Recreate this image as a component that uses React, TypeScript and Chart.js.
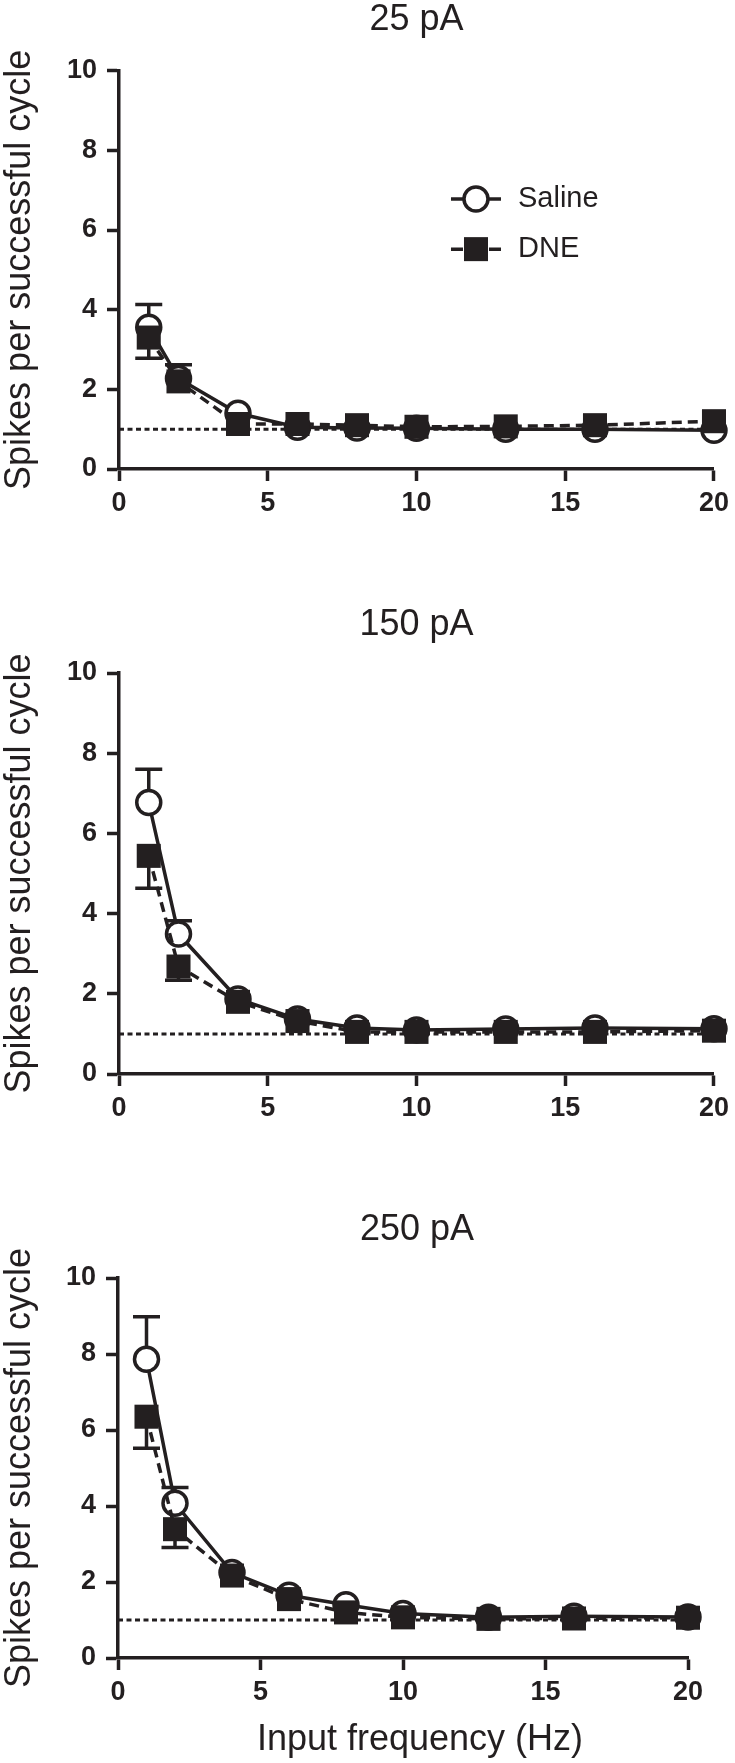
import React, { useEffect, useRef } from "react";
import { Chart, registerables } from "chart.js";

Chart.register(...registerables);

const INK = "#231f20";
const FONT = "'Liberation Sans', Arial, Helvetica, sans-serif";

// ---- data ----
const frequencies = [1, 2, 4, 6, 8, 10, 13, 16, 20];
const xTickValues = [0, 5, 10, 15, 20];
const yTickValues = [0, 2, 4, 6, 8, 10];
const baselineX = [0, 20];
const baselineY = [1, 1];

const saline25 = [3.56, 2.27, 1.4, 1.05, 1.03, 1.02, 1.0, 1.0, 0.97];
const dne25 = [3.3, 2.2, 1.13, 1.13, 1.1, 1.06, 1.07, 1.1, 1.2];
const salineUpper25 = [4.13, 2.62, null, null, null, null, null, null, null];
const dneLower25 = [2.78, null, null, null, null, null, null, null, null];

const saline150 = [6.77, 3.49, 1.87, 1.37, 1.15, 1.1, 1.12, 1.15, 1.13];
const dne150 = [5.44, 2.68, 1.8, 1.32, 1.05, 1.05, 1.05, 1.05, 1.08];
const salineUpper150 = [7.6, 3.82, null, null, null, null, null, null, null];
const dneLower150 = [4.63, 2.34, null, null, null, null, null, null, null];

const saline250 = [7.86, 4.07, 2.25, 1.65, 1.4, 1.17, 1.07, 1.1, 1.08];
const dne250 = [6.35, 3.39, 2.17, 1.55, 1.2, 1.07, 1.03, 1.04, 1.06];
const salineUpper250 = [8.98, 4.49, null, null, null, null, null, null, null];
const dneLower250 = [5.52, 2.91, null, null, null, null, null, null, null];

const legendLabels = ["Saline", "DNE"];

// ---- layout (pixels) ----
type Panel = {
  title: string;
  saline: number[];
  dne: number[];
  salineEnds: (number | null)[];
  dneEnds: (number | null)[];
  top: number;
  height: number;
  yW: number;
  padRight: number;
  xH: number;
  titlePadTop: number;
  titlePadBottom: number;
  titleShift: number;
  legend: boolean;
  xTitle: boolean;
};

const panels: Panel[] = [
  {
    title: "25 pA", saline: saline25, dne: dne25, salineEnds: salineUpper25, dneEnds: dneLower25,
    top: 0, height: 530, yW: 119, padRight: 18, xH: 61, titlePadTop: 0.2, titlePadBottom: 30.9,
    titleShift: 0, legend: true, xTitle: false,
  },
  {
    title: "150 pA", saline: saline150, dne: dne150, salineEnds: salineUpper150, dneEnds: dneLower150,
    top: 600, height: 530, yW: 119, padRight: 16, xH: 56, titlePadTop: 5.2, titlePadBottom: 28.2,
    titleShift: 0, legend: false, xTitle: false,
  },
  {
    title: "250 pA", saline: saline250, dne: dne250, salineEnds: salineUpper250, dneEnds: dneLower250,
    top: 1170, height: 593, yW: 118, padRight: 47, xH: 105, titlePadTop: 40.2, titlePadBottom: 28.2,
    titleShift: 14, legend: false, xTitle: true,
  },
];

const LW = 3.5;

const errorBarPlugin = {
  id: "errorBars",
  beforeDatasetsDraw(chart: any) {
    const { ctx } = chart;
    const xs = chart.scales.x;
    const ys = chart.scales.y;
    ctx.save();
    ctx.strokeStyle = INK;
    ctx.lineWidth = LW;
    ctx.setLineDash([]);
    chart.data.datasets.forEach((ds: any) => {
      if (!ds.errorEnds) return;
      ds.data.forEach((pt: any, i: number) => {
        const end = ds.errorEnds[i];
        if (end == null) return;
        const px = xs.getPixelForValue(pt.x);
        const py0 = ys.getPixelForValue(pt.y);
        const py1 = ys.getPixelForValue(end);
        ctx.beginPath();
        ctx.moveTo(px, py0);
        ctx.lineTo(px, py1);
        ctx.moveTo(px - 13.5, py1);
        ctx.lineTo(px + 13.5, py1);
        ctx.stroke();
      });
    });
    ctx.restore();
  },
};

const seriesKeyPlugin = {
  id: "seriesKey",
  afterDatasetsDraw(chart: any, _args: any, opts: any) {
    if (!opts || !opts.show) return;
    const { ctx } = chart;
    const xs = chart.scales.x;
    const ys = chart.scales.y;
    const cx = xs.getPixelForValue(opts.x);
    opts.items.forEach((item: any) => {
      const cy = ys.getPixelForValue(item.y);
      ctx.save();
      ctx.strokeStyle = INK;
      ctx.lineWidth = LW;
      ctx.setLineDash(item.dash);
      ctx.beginPath();
      ctx.moveTo(cx - 25, cy);
      ctx.lineTo(cx + 25, cy);
      ctx.stroke();
      ctx.setLineDash([]);
      if (item.style === "circle") {
        ctx.beginPath();
        ctx.arc(cx, cy, 12, 0, Math.PI * 2);
        ctx.fillStyle = "#ffffff";
        ctx.fill();
        ctx.stroke();
      } else {
        ctx.fillStyle = INK;
        ctx.fillRect(cx - 12, cy - 12, 24, 24);
      }
      ctx.fillStyle = INK;
      ctx.font = `29px ${FONT}`;
      ctx.textAlign = "left";
      ctx.textBaseline = "middle";
      ctx.fillText(item.label, cx + 42, cy);
      ctx.restore();
    });
  },
};

const layoutTweakPlugin = {
  id: "layoutTweak",
  afterLayout(chart: any, _args: any, opts: any) {
    const tb = chart.titleBlock;
    if (tb && opts && opts.titleShift) {
      tb.left += opts.titleShift;
      tb.right += opts.titleShift;
    }
  },
  afterDraw(chart: any, _args: any, opts: any) {
    if (!opts || !opts.xTitle) return;
    const { ctx, chartArea } = chart;
    ctx.save();
    ctx.fillStyle = INK;
    ctx.font = `36px ${FONT}`;
    ctx.textAlign = "center";
    ctx.textBaseline = "middle";
    ctx.fillText(opts.xTitle, (chartArea.left + chartArea.right) / 2 + 17, chartArea.bottom + 82);
    ctx.restore();
  },
};

function axisCommon() {
  return {
    grid: {
      display: true,
      drawOnChartArea: false,
      drawTicks: true,
      tickLength: 12,
      tickWidth: LW,
      tickColor: INK,
      color: INK,
    },
    border: { display: true, color: INK, width: LW },
  };
}

function PanelChart({ p }: { p: Panel }) {
  const ref = useRef<HTMLCanvasElement | null>(null);
  useEffect(() => {
    if (!ref.current) return;
    const chart = new Chart(ref.current, {
      type: "line",
      data: {
        datasets: [
          {
            label: "baseline",
            data: baselineX.map((x, i) => ({ x, y: baselineY[i] })),
            borderColor: INK,
            borderWidth: 3,
            borderDash: [5, 3.5],
            pointRadius: 0,
            order: 3,
          } as any,
          {
            label: legendLabels[0],
            data: frequencies.map((x, i) => ({ x, y: p.saline[i] })),
            errorEnds: p.salineEnds,
            borderColor: INK,
            borderWidth: LW,
            pointStyle: "circle",
            pointRadius: 12,
            pointBackgroundColor: "#ffffff",
            pointBorderColor: INK,
            pointBorderWidth: LW,
            clip: false,
            order: 2,
          } as any,
          {
            label: legendLabels[1],
            data: frequencies.map((x, i) => ({ x, y: p.dne[i] })),
            errorEnds: p.dneEnds,
            borderColor: INK,
            borderWidth: LW,
            borderDash: [10, 6],
            pointStyle: "rect",
            pointRadius: 17,
            pointBackgroundColor: INK,
            pointBorderColor: INK,
            pointBorderWidth: 0,
            clip: false,
            order: 1,
          } as any,
        ],
      },
      options: {
        responsive: false,
        animation: false,
        devicePixelRatio: 1,
        layout: { padding: { left: 0, right: p.padRight, top: 0, bottom: 0 } },
        elements: { line: { tension: 0 } },
        scales: {
          x: {
            type: "linear",
            min: 0,
            max: 20,
            afterBuildTicks: (s: any) => {
              s.ticks = xTickValues.map((v) => ({ value: v }));
            },
            afterFit: (s: any) => {
              s.height = p.xH;
            },
            ticks: {
              color: INK,
              padding: 6,
              maxRotation: 0,
              autoSkip: false,
              font: { family: FONT, size: 27, weight: "bold", lineHeight: 1.2 },
            },
            ...axisCommon(),
          },
          y: {
            type: "linear",
            min: 0,
            max: 10,
            afterBuildTicks: (s: any) => {
              s.ticks = yTickValues.map((v) => ({ value: v }));
            },
            afterFit: (s: any) => {
              s.width = p.yW;
            },
            ticks: {
              color: INK,
              padding: 10,
              font: { family: FONT, size: 27, weight: "bold", lineHeight: 1.2 },
            },
            title: {
              display: true,
              text: "Spikes per successful cycle",
              color: INK,
              font: { family: FONT, size: 36, weight: "normal", lineHeight: 1.1 },
              padding: { top: 0, bottom: 0 },
            },
            ...axisCommon(),
          },
        },
        plugins: {
          legend: { display: false },
          tooltip: { enabled: false },
          title: {
            display: true,
            text: p.title,
            fullSize: false,
            color: INK,
            font: { family: FONT, size: 36, weight: "normal", lineHeight: 1.1 },
            padding: { top: p.titlePadTop, bottom: p.titlePadBottom },
          },
          seriesKey: {
            show: p.legend,
            x: 12,
            items: [
              { label: legendLabels[0], y: 6.78, style: "circle", dash: [] },
              { label: legendLabels[1], y: 5.52, style: "rect", dash: [12, 26] },
            ],
          },
          layoutTweak: {
            titleShift: p.titleShift,
            xTitle: p.xTitle ? "Input frequency (Hz)" : "",
          },
        } as any,
      },
      plugins: [errorBarPlugin, seriesKeyPlugin, layoutTweakPlugin],
    } as any);
    return () => chart.destroy();
  }, [p]);
  return (
    <canvas
      ref={ref}
      width={735}
      height={p.height}
      style={{ position: "absolute", left: 0, top: p.top, width: 735, height: p.height }}
    />
  );
}

export default function App() {
  return (
    <div style={{ position: "absolute", left: 0, top: 0, width: 735, height: 1763, background: "#ffffff" }}>
      {panels.map((p) => (
        <PanelChart key={p.title} p={p} />
      ))}
    </div>
  );
}
